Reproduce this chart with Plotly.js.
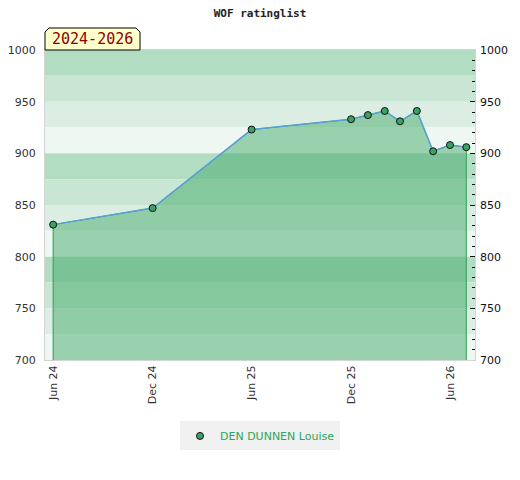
<!DOCTYPE html>
<html>
<head>
<meta charset="utf-8">
<script src="https://cdn.plot.ly/plotly-3.0.1.min.js"></script>
<style>html,body{margin:0;padding:0;background:#fff;}#chart{width:520px;height:480px;}</style>
</head>
<body>
<div id="chart"></div>
<script>
// ---- data ----
const dates = ["2024-06-01","2024-12-01","2025-06-01","2025-12-01","2026-01-01","2026-02-01","2026-03-01","2026-04-01","2026-05-01","2026-06-01","2026-07-01"];
const ratings = [831, 847, 923, 933, 937, 941, 931, 941, 902, 908, 906];
const seriesName = "DEN DUNNEN Louise";
const periodLabel = "2024-2026";
const chartTitle = "WOF ratinglist";
const yRange = [700, 1000];
const xRange = ["2024-05-17", "2026-07-17"];
const xTickVals = ["2024-06-01","2024-12-01","2025-06-01","2025-12-01","2026-06-01"];
const xTickText = ["Jun 24","Dec 24","Jun 25","Dec 25","Jun 26"];
const bandColors = ["#b3ddc3", "#c9e6d4", "#dcede3", "#eef7f1"]; // top to bottom within each 100
const bandStep = 25;

// ---- bands ----
const shapes = [];
let i = 0;
for (let top = yRange[1]; top > yRange[0]; top -= bandStep, i++) {
  shapes.push({type:"rect", xref:"paper", yref:"y", x0:0, x1:1, y0:top-bandStep, y1:top,
    fillcolor: bandColors[i % bandColors.length], line:{width:0}, layer:"below"});
}
// label box with cut top corners (paper coords)
const bw = 0.221, bh = 0.071, cx = 0.0093, cy = 0.013;
shapes.push({type:"path", xref:"paper", yref:"paper", layer:"above",
  path:`M 0 1 L 0 ${1+bh-cy} L ${cx} ${1+bh} L ${bw-cx} ${1+bh} L ${bw} ${1+bh-cy} L ${bw} 1 Z`,
  fillcolor:"#ffffcc", line:{color:"#000", width:1}});

const fillX = [dates[0]].concat(dates, [dates[dates.length-1]]);
const fillY = [yRange[0]].concat(ratings, [yRange[0]]);

const traces = [
  {x: fillX, y: fillY, type:"scatter", mode:"lines", fill:"toself",
   fillcolor:"rgba(60,168,100,0.48)", line:{color:"#2e9e52", width:1},
   showlegend:false, hoverinfo:"skip"},
  {x: dates, y: ratings, type:"scatter", mode:"lines", showlegend:false,
   line:{color:"#5a9fd8", width:1.5}},
  {x: dates, y: ratings, type:"scatter", mode:"markers", name: seriesName,
   marker:{size:7, color:"#3aa362", line:{color:"#111", width:1}}},
  {x: dates, y: ratings, yaxis:"y2", type:"scatter", mode:"none", showlegend:false, hoverinfo:"skip"}
];

const tickFont = {family:"DejaVu Sans, sans-serif", size:11, color:"#333"};

const layout = {
  width:520, height:480,
  margin:{l:45, r:45, t:50, b:120},
  paper_bgcolor:"#fff", plot_bgcolor:"#fff",
  title:{text: chartTitle, x:0.5, xanchor:"center", y:0.973, yanchor:"middle",
         font:{family:"DejaVu Sans Mono, monospace", size:11, color:"#222", weight:"bold"}},
  xaxis:{type:"date", range:xRange, tickvals:xTickVals, ticktext:xTickText, tickangle:-90,
         tickfont:tickFont, showgrid:false, zeroline:false, showline:true, linecolor:"#d4d4d4",
         linewidth:1, mirror:true, ticks:"", ticklen:0, automargin:false},
  yaxis:{range:yRange, dtick:50, tickfont:tickFont, showgrid:false, zeroline:false, automargin:false,
         showline:true, linecolor:"#d4d4d4", linewidth:1, mirror:true, ticks:"", ticklabelstandoff:6},
  yaxis2:{range:yRange, dtick:50, overlaying:"y", side:"right", showgrid:false, zeroline:false,
          automargin:false, ticklabelstandoff:4,
          tickfont:{family:"DejaVu Sans, sans-serif", size:11, color:"#111"},
          ticks:"inside", ticklen:5, tickcolor:"#111", tickwidth:1,
          minor:{dtick:10, ticks:"inside", ticklen:3, tickcolor:"#111", showgrid:false}},
  showlegend:true,
  legend:{orientation:"h", x:0.5, xanchor:"center", y:-0.245, yanchor:"middle",
          bgcolor:"#f0f0f0", itemwidth:30, font:{family:"DejaVu Sans, sans-serif", size:11, color:"#2ea55a"}},
  shapes: shapes,
  annotations:[{text: periodLabel, xref:"paper", yref:"paper", x:bw/2, y:1+bh/2, xanchor:"center", yanchor:"middle",
    showarrow:false,
    font:{family:"DejaVu Sans Mono, monospace", size:15, color:"#8b0000"}}]
};

Plotly.newPlot("chart", traces, layout, {displayModeBar:false, staticPlot:true});
</script>
</body>
</html>
